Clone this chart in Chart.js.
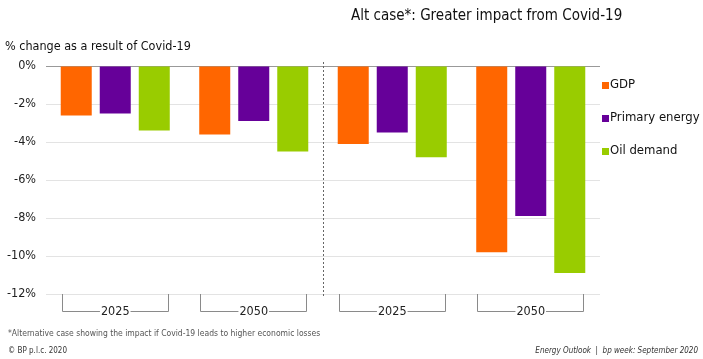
<!DOCTYPE html>
<html>
<head>
<meta charset="utf-8">
<script src="https://cdn.jsdelivr.net/npm/chart.js@4"></script>
<style>
  html, body { margin: 0; padding: 0; background: #fff; }
  #wrap { position: relative; width: 703px; height: 359px; overflow: hidden;
    font-family: "DejaVu Sans Condensed", "DejaVu Sans", sans-serif; color: #222; }
  #chart { position: absolute; left: 0; top: 0; }
  .txt { position: absolute; white-space: nowrap; }
  #title { left: 351px; top: 6px; font-size: 15px; color: #111; }
  #ytitle { left: 5px; top: 38px; font-size: 12.5px; color: #111; }
  #note { left: 8px; top: 328px; font-size: 8.5px; color: #555; }
  #copy { left: 8px; top: 346px; font-size: 8px; color: #333; }
  #src { right: 5px; top: 346px; font-size: 8px; color: #333; font-style: italic; }
</style>
</head>
<body>
<div id="wrap">
  <canvas id="chart" width="703" height="359"></canvas>
  <div class="txt" id="title">Alt case*: Greater impact from Covid-19</div>
  <div class="txt" id="ytitle">% change as a result of Covid-19</div>
  <div class="txt" id="note">*Alternative case showing the impact if Covid-19 leads to higher economic losses</div>
  <div class="txt" id="copy">© BP p.l.c. 2020</div>
  <div class="txt" id="src">Energy Outlook &nbsp;|&nbsp; bp week: September 2020</div>
</div>
<script>
// Base case (left pair) and alt case (right pair), % change vs pre-Covid outlook
const years = ["2025", "2050", "2025", "2050"];
const gdp = [-2.6, -3.6, -4.1, -9.8];
const primaryEnergy = [-2.5, -2.9, -3.5, -7.9];
const oilDemand = [-3.4, -4.5, -4.8, -10.9];
const seriesNames = ["GDP", "Primary energy", "Oil demand"];
const seriesColors = ["#ff6600", "#660099", "#99cc00"];
const yTicks = [0, -2, -4, -6, -8, -10, -12];

const FONT = "'DejaVu Sans Condensed', 'DejaVu Sans', sans-serif";

// Bracket under each year group plus the dashed case divider
const groupBrackets = {
  id: "groupBrackets",
  afterDraw(chart) {
    const ctx = chart.ctx;
    const x = chart.scales.x;
    const area = chart.chartArea;
    const half = (x.getPixelForValue(1) - x.getPixelForValue(0)) * 0.385;
    const yLine = Math.round(area.bottom) + 17;
    ctx.save();
    ctx.font = "12.5px " + FONT;
    ctx.textAlign = "center";
    ctx.textBaseline = "middle";
    years.forEach((label, i) => {
      const cx = x.getPixelForValue(i);
      const tw = ctx.measureText(label).width / 2 + 1;
      ctx.strokeStyle = "#8a8a8a";
      ctx.lineWidth = 1;
      ctx.beginPath();
      ctx.moveTo(Math.round(cx - half) + 0.5, area.bottom);
      ctx.lineTo(Math.round(cx - half) + 0.5, yLine + 0.5);
      ctx.lineTo(cx - tw, yLine + 0.5);
      ctx.moveTo(cx + tw, yLine + 0.5);
      ctx.lineTo(Math.round(cx + half) - 0.5, yLine + 0.5);
      ctx.lineTo(Math.round(cx + half) - 0.5, area.bottom);
      ctx.stroke();
      ctx.fillStyle = "#222";
      ctx.fillText(label, cx, yLine + 1);
    });
    const dx = Math.round((x.getPixelForValue(1) + x.getPixelForValue(2)) / 2) + 0.5;
    ctx.strokeStyle = "#666";
    ctx.setLineDash([2, 2]);
    ctx.beginPath();
    ctx.moveTo(dx, area.top - 4);
    ctx.lineTo(dx, area.bottom + 2);
    ctx.stroke();
    ctx.restore();
  }
};

// Legend drawn to the right of the plot
const sideLegend = {
  id: "sideLegend",
  afterDraw(chart) {
    const ctx = chart.ctx;
    const area = chart.chartArea;
    ctx.save();
    ctx.font = "13px " + FONT;
    ctx.textBaseline = "middle";
    chart.data.datasets.forEach((ds, i) => {
      const y = 85 + i * 33;
      ctx.fillStyle = ds.backgroundColor;
      ctx.fillRect(area.right + 2, y - 3, 7, 7);
      ctx.fillStyle = "#111";
      ctx.fillText(ds.label, area.right + 10, y);
    });
    ctx.restore();
  }
};

new Chart(document.getElementById("chart"), {
  type: "bar",
  data: {
    labels: years,
    datasets: [
      { label: seriesNames[0], data: gdp, backgroundColor: seriesColors[0] },
      { label: seriesNames[1], data: primaryEnergy, backgroundColor: seriesColors[1] },
      { label: seriesNames[2], data: oilDemand, backgroundColor: seriesColors[2] },
    ],
  },
  options: {
    responsive: false,
    animation: false,
    categoryPercentage: 0.845,
    barPercentage: 0.795,
    layout: { padding: { left: 0, right: 103, top: 66, bottom: 57 } },
    plugins: { legend: { display: false }, tooltip: { enabled: false } },
    scales: {
      x: {
        grid: { display: false },
        border: { display: false },
        ticks: { display: false },
      },
      y: {
        min: -12,
        max: 0,
        afterFit(scale) { scale.width = 46; },
        afterBuildTicks(scale) { scale.ticks = yTicks.map((v) => ({ value: v })); },
        border: { display: false },
        grid: {
          drawTicks: false,
          color: (c) => (c.tick && c.tick.value === 0 ? "#999" : "#e3e3e3"),
          lineWidth: 1,
        },
        ticks: {
          padding: 10,
          color: "#222",
          font: { family: FONT, size: 12.5 },
          callback: (v) => v + "%",
        },
      },
    },
  },
  plugins: [groupBrackets, sideLegend],
});
</script>
</body>
</html>
